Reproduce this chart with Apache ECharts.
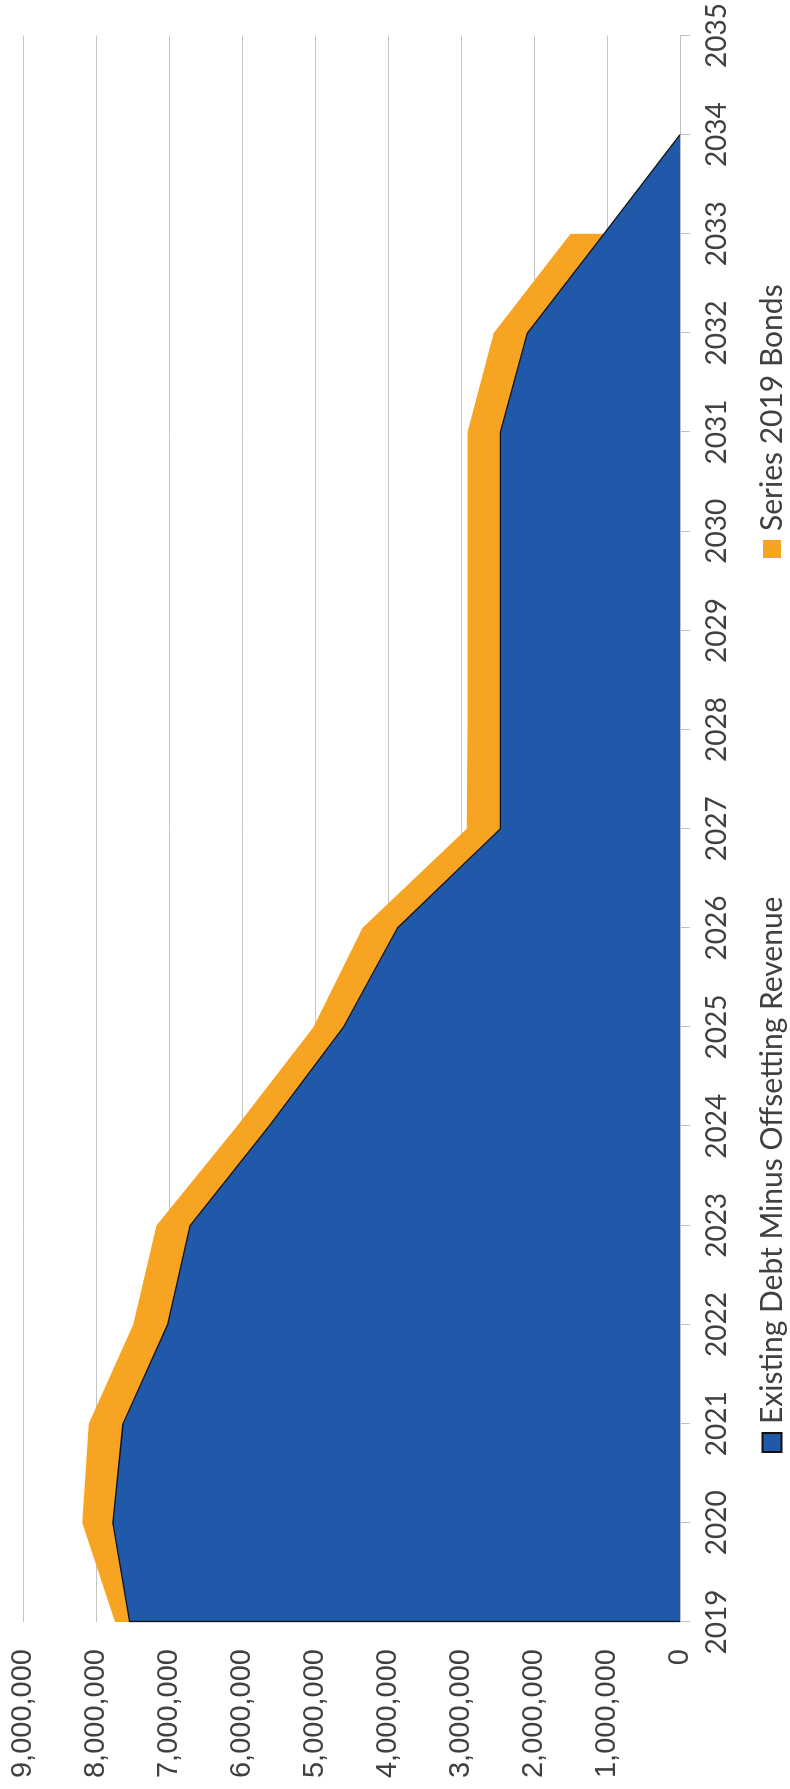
<!DOCTYPE html>
<html>
<head>
<meta charset="utf-8">
<script src="https://cdn.jsdelivr.net/npm/echarts@6/dist/echarts.min.js"></script>
<style>
html, body { margin:0; padding:0; width:790px; height:1789px; overflow:hidden; background:#ffffff; }
#chart { position:absolute; left:0; top:0; width:1789px; height:790px; transform-origin:0 0; transform:translateY(1789px) rotate(-90deg); }
</style>
</head>
<body>
<div id="chart"></div>
<script>
// Data
var years = ['2019','2020','2021','2022','2023','2024','2025','2026','2027','2028','2029','2030','2031','2032','2033','2034','2035'];
var existingDebt = [7540000, 7770000, 7630000, 7020000, 6710000, 5630000, 4610000, 3870000, 2460000, 2460000, 2460000, 2460000, 2460000, 2090000, 1040000, 0];
var series2019 = [200000, 420000, 470000, 470000, 460000, 440000, 410000, 480000, 460000, 450000, 450000, 450000, 450000, 460000, 460000];
var valueTicks = { min: 0, max: 9000000, interval: 1000000 };
var seriesNames = ['Existing Debt Minus Offsetting Revenue', 'Series 2019 Bonds'];

var chart = echarts.init(document.getElementById('chart'), null, { renderer: 'canvas' });
chart.setOption({
  animation: false,
  backgroundColor: '#ffffff',
  grid: { left: 167, right: 33, top: 23, bottom: 110, containLabel: false },
  legend: [
    { data: [seriesNames[0]], left: 331, top: 752, itemWidth: 19, itemHeight: 19, icon: 'rect', itemGap: 0,
      textStyle: { fontFamily: 'Lato', fontSize: 30, color: '#404040', padding: [0, 0, 0, 4] } },
    { data: [seriesNames[1]], left: 1226, top: 752, itemWidth: 18, itemHeight: 18, icon: 'rect', itemGap: 0,
      textStyle: { fontFamily: 'Lato', fontSize: 30, color: '#404040', padding: [0, 0, 0, 4] } }
  ],
  xAxis: {
    type: 'category', data: years, boundaryGap: false,
    axisLine: { show: true, lineStyle: { color: '#bfbfbf', width: 1 } },
    axisTick: { show: true, length: 10, lineStyle: { color: '#bfbfbf' } },
    axisLabel: { fontFamily: 'Lato', fontSize: 28, color: '#404040', margin: 23, interval: 0 },
    splitLine: { show: false }
  },
  yAxis: {
    type: 'value', min: valueTicks.min, max: valueTicks.max, interval: valueTicks.interval,
    axisLine: { show: false }, axisTick: { show: false },
    axisLabel: { fontFamily: 'Liberation Sans', fontSize: 29, color: '#404040', margin: 27,
      formatter: function (v) { return v.toString().replace(/\B(?=(\d{3})+(?!\d))/g, ','); } },
    splitLine: { show: true, lineStyle: { color: '#c4c4c4', width: 1 } }
  },
  series: [
    { name: seriesNames[0], type: 'line', stack: 'total', data: existingDebt, showSymbol: false, symbol: 'none',
      itemStyle: { color: '#2059a9', borderColor: '#111111', borderWidth: 1 },
      lineStyle: { color: '#111111', width: 1.3 },
      areaStyle: { color: '#2059a9', opacity: 1 },
      markLine: {
        silent: true, symbol: ['none', 'none'], label: { show: false },
        lineStyle: { color: '#111111', width: 1.3, type: 'solid' },
        data: [[{ coord: [years[0], 0] }, { coord: [years[0], existingDebt[0]] }]]
      } },
    { name: seriesNames[1], type: 'line', stack: 'total', data: series2019, showSymbol: false, symbol: 'none',
      itemStyle: { color: '#f7a423' },
      lineStyle: { width: 0, color: '#f7a423' },
      areaStyle: { color: '#f7a423', opacity: 1 } }
  ]
});
</script>
</body>
</html>
